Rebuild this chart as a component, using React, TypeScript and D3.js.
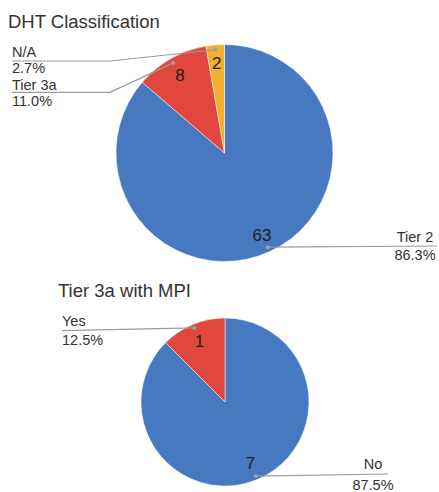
import React from "react";
import * as d3 from "d3";

const dhtCategories = ["Tier 2", "Tier 3a", "N/A"];
const dhtValues = [63, 8, 2];
const mpiCategories = ["No", "Yes"];
const mpiValues = [7, 1];

const colors: Record<string, string> = {
  "Tier 2": "#4679c0",
  "No": "#4679c0",
  "Tier 3a": "#e1473d",
  "Yes": "#e1473d",
  "N/A": "#f2ae2f",
};

const FONT = "'Liberation Sans', Arial, Helvetica, sans-serif";

type LabelLayout = {
  elbow?: [number, number];
  end: [number, number];
  anchor: "start" | "middle";
  textX: number;
  nameY: number;
  pctY: number;
};

type PieSpec = {
  title: string;
  titleX: number;
  titleY: number;
  cx: number;
  cy: number;
  r: number;
  labelR: number;
  cats: string[];
  vals: number[];
  layouts: Record<string, LabelLayout>;
};

const pies: PieSpec[] = [
  {
    title: "DHT Classification",
    titleX: 8,
    titleY: 28,
    cx: 224.5,
    cy: 153,
    r: 108.5,
    labelR: 0.83,
    cats: dhtCategories,
    vals: dhtValues,
    layouts: {
      "Tier 2": { end: [437, 246], anchor: "middle", textX: 415, nameY: 242, pctY: 260 },
      "Tier 3a": { elbow: [110, 92.3], end: [12, 92.3], anchor: "start", textX: 12, nameY: 89.7, pctY: 106 },
      "N/A": { elbow: [110, 61], end: [12, 61], anchor: "start", textX: 12, nameY: 57, pctY: 73.3 },
    },
  },
  {
    title: "Tier 3a with MPI",
    titleX: 58,
    titleY: 297,
    cx: 225,
    cy: 402,
    r: 84,
    labelR: 0.79,
    cats: mpiCategories,
    vals: mpiValues,
    layouts: {
      "No": { end: [388, 474], anchor: "middle", textX: 373, nameY: 469, pctY: 490 },
      "Yes": { end: [62, 330.7], anchor: "start", textX: 62, nameY: 326, pctY: 344.5 },
    },
  },
];

function Pie({ spec }: { spec: PieSpec }) {
  const data = spec.cats.map((c, i) => ({ cat: c, val: spec.vals[i] }));
  const total = d3.sum(spec.vals);
  const pieGen = d3.pie<{ cat: string; val: number }>().value((d) => d.val).sort(null);
  const arcs = pieGen(data);
  const arcGen = d3.arc<d3.PieArcDatum<{ cat: string; val: number }>>().innerRadius(0).outerRadius(spec.r);
  const dotArc = d3.arc<d3.PieArcDatum<{ cat: string; val: number }>>().innerRadius(spec.r * 0.955).outerRadius(spec.r * 0.955);
  const lblArc = d3.arc<d3.PieArcDatum<{ cat: string; val: number }>>().innerRadius(spec.r * spec.labelR).outerRadius(spec.r * spec.labelR);
  const fmt = d3.format(".1f");
  return (
    <g>
      <text x={spec.titleX} y={spec.titleY} fontSize={18.5} fill="#333" fontFamily={FONT}>
        {spec.title}
      </text>
      <g transform={`translate(${spec.cx},${spec.cy})`}>
        {arcs.map((a) => (
          <path key={a.data.cat} d={arcGen(a) || ""} fill={colors[a.data.cat]} stroke="#fff" strokeWidth={0.5} />
        ))}
      </g>
      {arcs.map((a) => {
        const [dx, dy] = dotArc.centroid(a);
        const [lx, ly] = lblArc.centroid(a);
        const px = spec.cx + dx;
        const py = spec.cy + dy;
        const lay = spec.layouts[a.data.cat];
        const pts: [number, number][] = [[px, py]];
        if (lay.elbow) pts.push(lay.elbow);
        pts.push(lay.end);
        const line = d3.line()(pts) || "";
        return (
          <g key={a.data.cat}>
            <text
              x={spec.cx + lx}
              y={spec.cy + ly + 6}
              fontSize={17}
              textAnchor="middle"
              fill="#222"
              fontFamily={FONT}
            >
              {a.data.val}
            </text>
            <path d={line} fill="none" stroke="#9a9a9a" strokeWidth={1.2} />
            <circle cx={px} cy={py} r={2} fill="#a0a0a0" />
            <text x={lay.textX} y={lay.nameY} fontSize={14.5} textAnchor={lay.anchor} fill="#333" fontFamily={FONT}>
              {a.data.cat}
            </text>
            <text x={lay.textX} y={lay.pctY} fontSize={14.5} textAnchor={lay.anchor} fill="#333" fontFamily={FONT}>
              {fmt((a.data.val / total) * 100)}%
            </text>
          </g>
        );
      })}
    </g>
  );
}

export default function App() {
  return (
    <svg width={439} height={492} style={{ position: "absolute", left: 0, top: 0, background: "#fff" }}>
      <rect width={439} height={492} fill="#fff" />
      {pies.map((p) => (
        <Pie key={p.title} spec={p} />
      ))}
    </svg>
  );
}
